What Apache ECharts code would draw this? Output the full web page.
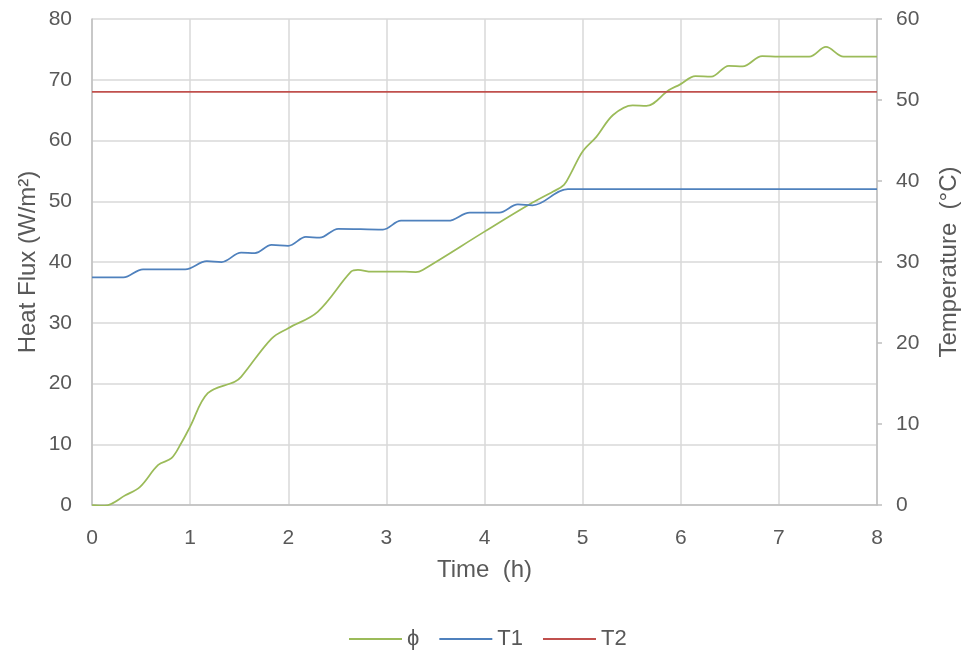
<!DOCTYPE html>
<html>
<head>
<meta charset="utf-8">
<script src="https://cdn.jsdelivr.net/npm/echarts@6/dist/echarts.min.js"></script>
<style>
html,body{margin:0;padding:0;background:#fff;}
#chart{width:969px;height:659px;}
</style>
</head>
<body>
<div id="chart"></div>
<script>
// Heat flux (phi), left axis
const phiTime = [0, 0.13, 0.34, 0.49, 0.675, 0.81, 0.91, 1.0, 1.18, 1.455, 1.52, 1.83, 2.0, 2.30, 2.64, 2.71, 2.85, 3.19, 3.30, 3.37, 4.0, 4.46, 4.70, 4.81, 4.88, 5.0, 5.14, 5.31, 5.51, 5.65, 5.88, 5.99, 6.15, 6.31, 6.49, 6.63, 6.83, 7.0, 7.31, 7.48, 7.66, 8.0];
const phiValues = [0, -0.1, 1.6, 3.0, 6.6, 7.7, 10.2, 12.9, 18.4, 20.3, 21.1, 27.4, 29.1, 31.8, 38.4, 38.7, 38.4, 38.4, 38.35, 38.7, 45.0, 49.5, 51.6, 52.7, 54.6, 58.2, 60.6, 64.2, 65.8, 65.7, 68.3, 69.2, 70.6, 70.5, 72.3, 72.2, 73.9, 73.8, 73.8, 75.4, 73.8, 73.8];
// Temperature T1, right axis
const t1Time = [0, 0.32, 0.52, 0.95, 1.17, 1.32, 1.52, 1.66, 1.83, 2.0, 2.18, 2.32, 2.51, 2.965, 3.15, 3.63, 3.85, 4.15, 4.34, 4.49, 4.85, 8.0];
const t1Values = [28.1, 28.1, 29.1, 29.1, 30.1, 30.0, 31.15, 31.1, 32.1, 32.0, 33.1, 33.0, 34.1, 34.0, 35.1, 35.1, 36.1, 36.1, 37.1, 37.0, 39.0, 39.0];
// Temperature T2, right axis
const t2Time = [0, 8];
const t2Values = [51, 51];

const seriesNames = ['ϕ', 'T1', 'T2'];
const xTicks = [0, 8, 1];
const leftTicks = [0, 80, 10];
const rightTicks = [0, 60, 10];

const zip = (a, b) => a.map((x, i) => [x, b[i]]);

const txt = '#595959';
const axisCol = '#bfbfbf';
const gridCol = '#d9d9d9';
const ff = '"Liberation Sans", Arial, sans-serif';

const chart = echarts.init(document.getElementById('chart'));
chart.setOption({
  animation: false,
  textStyle: { fontFamily: ff },
  grid: { left: 92, right: 91, top: 19, bottom: 154 },
  legend: {
    left: 349, top: 628, padding: 0,
    itemWidth: 53, itemHeight: 2, itemGap: 20,
    icon: 'rect',
    textStyle: { color: txt, fontSize: 22, fontFamily: ff },
    data: seriesNames
  },
  xAxis: {
    type: 'value', min: xTicks[0], max: xTicks[1], interval: xTicks[2],
    name: 'Time  (h)', nameLocation: 'middle', nameGap: 53,
    nameTextStyle: { color: txt, fontSize: 24, fontFamily: ff },
    axisLine: { show: true, lineStyle: { color: axisCol, width: 1.5 } },
    axisTick: { show: false },
    axisLabel: { color: txt, fontSize: 21, margin: 23, fontFamily: ff },
    splitLine: { show: true, lineStyle: { color: gridCol, width: 1.5 } }
  },
  yAxis: [
    {
      type: 'value', min: leftTicks[0], max: leftTicks[1], interval: leftTicks[2],
      name: 'Heat Flux (W/m²)', nameLocation: 'middle', nameGap: 52,
      nameMoveOverlap: false,
      nameTextStyle: { color: txt, fontSize: 24, fontFamily: ff },
      axisLine: { show: true, lineStyle: { color: axisCol, width: 1.5 } },
      axisTick: { show: false },
      axisLabel: { color: txt, fontSize: 21, margin: 20, fontFamily: ff },
      splitLine: { show: true, lineStyle: { color: gridCol, width: 1.5 } }
    },
    {
      type: 'value', min: rightTicks[0], max: rightTicks[1], interval: rightTicks[2],
      position: 'right',
      name: 'Temperature  (°C)', nameLocation: 'middle', nameGap: 60, nameRotate: 90,
      nameTextStyle: { color: txt, fontSize: 24, fontFamily: ff },
      axisLine: { show: true, lineStyle: { color: axisCol, width: 1.5 } },
      axisTick: { show: true, length: 5, lineStyle: { color: axisCol, width: 1.5 } },
      axisLabel: { color: txt, fontSize: 21, margin: 19, fontFamily: ff },
      splitLine: { show: false }
    }
  ],
  series: [
    {
      name: seriesNames[0], type: 'line', yAxisIndex: 0, smooth: 0.35,
      showSymbol: false, data: zip(phiTime, phiValues),
      lineStyle: { color: '#9bbb59', width: 1.75 }, itemStyle: { color: '#9bbb59' }
    },
    {
      name: seriesNames[1], type: 'line', yAxisIndex: 1, smooth: 0.35,
      showSymbol: false, data: zip(t1Time, t1Values),
      lineStyle: { color: '#4f81bd', width: 1.75 }, itemStyle: { color: '#4f81bd' }
    },
    {
      name: seriesNames[2], type: 'line', yAxisIndex: 1,
      showSymbol: false, data: zip(t2Time, t2Values),
      lineStyle: { color: '#c0504d', width: 1.75 }, itemStyle: { color: '#c0504d' }
    }
  ]
});
</script>
</body>
</html>
